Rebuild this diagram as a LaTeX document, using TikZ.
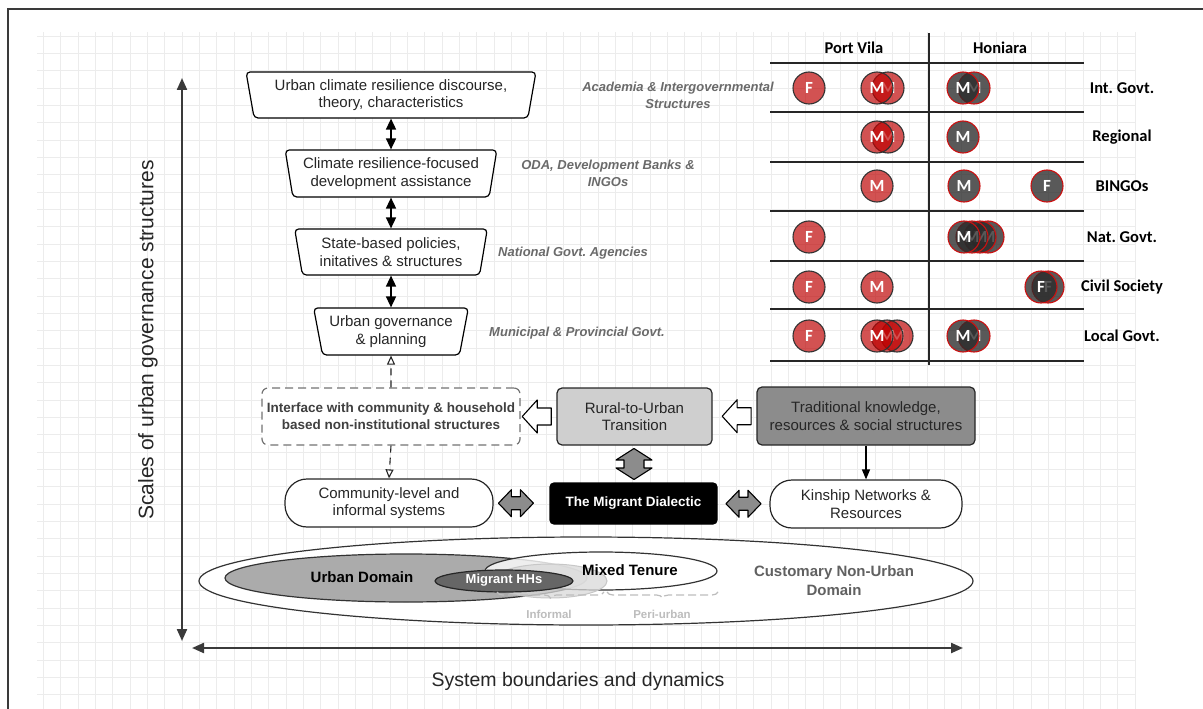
\documentclass[tikz,border=0pt]{standalone}
\usepackage{fontspec}
\setmainfont{Liberation Sans}
\newfontfamily\calib{Carlito}
\usetikzlibrary{arrows.meta,shapes.geometric,calc,decorations.pathreplacing}

\definecolor{gridc}{HTML}{ECECEC}
\definecolor{framec}{HTML}{3A3A3A}
\definecolor{ink}{HTML}{262626}
\definecolor{labgrey}{HTML}{6A6A6A}
\definecolor{pvfill}{HTML}{BD0000}
\definecolor{hofill}{HTML}{2A2A2A}
\definecolor{honred}{HTML}{CC1010}
\definecolor{ruralfill}{HTML}{CFCFCF}
\definecolor{tradfill}{HTML}{8C8C8C}
\definecolor{urbanfill}{HTML}{ABABAB}
\definecolor{migrfill}{HTML}{666666}
\definecolor{blockfill}{HTML}{8C8C8C}
\definecolor{bracec}{HTML}{BDBDBD}

\begin{document}
\frenchspacing
\begin{tikzpicture}[x=1pt,y=-1pt,
  trap/.style={trapezium, trapezium stretches=true, shape border rotate=180,
    draw=black, line width=1.2pt, rounded corners=4pt, fill=white, align=center,
    text=ink, font=\fontsize{15}{17.5}\selectfont, inner sep=0pt},
  twohead/.style={{Triangle[length=11pt,width=10pt]}-{Triangle[length=11pt,width=10pt]},
    line width=1.6pt, draw=black},
  dashlink/.style={dash pattern=on 7pt off 5pt, line width=1.1pt, draw=black!85,
    -{Triangle[length=9pt,width=8pt,fill=white,line width=1.1pt]}},
  softbox/.style={rectangle, rounded corners=5pt, line width=1.2pt, draw=black!85,
    align=center, inner sep=0pt, text=ink, font=\fontsize{15}{17.5}\selectfont},
  stadium/.style={softbox, rounded corners=22pt, fill=white},
  blockline/.style={draw=black, line width=1.1pt, line join=round},
  % hollow block arrow pointing left
  leftblock/.pic={\draw[blockline, fill=white]
      (-14.5,0) -- (0.5,-16.5) -- (0.5,-8.5) -- (14.5,-8.5) -- (14.5,8.5)
      -- (0.5,8.5) -- (0.5,16.5) -- cycle;},
  % grey two-way block arrow, horizontal
  sideblock/.pic={\draw[blockline, fill=blockfill]
      (-17.5,0) -- (-4.5,-13.5) -- (-4.5,-6.5) -- (4.5,-6.5) -- (4.5,-13.5)
      -- (17.5,0) -- (4.5,13.5) -- (4.5,6.5) -- (-4.5,6.5) -- (-4.5,13.5) -- cycle;},
  % grey two-way block arrow, vertical
  upblock/.pic={\draw[blockline, fill=blockfill]
      (0,-15.5) -- (18,-4) -- (10,-4) -- (10,4) -- (18,4) -- (0,15.5)
      -- (-18,4) -- (-10,4) -- (-10,-4) -- (-18,-4) -- cycle;},
  italab/.style={font=\fontsize{13}{17}\selectfont\bfseries\itshape, text=labgrey, align=center},
  tabline/.style={draw=black!85, line width=1.3pt},
  tabhead/.style={font=\calib\fontsize{16.5}{18}\selectfont\bfseries, text=black},
  rowlab/.style={tabhead},
  pvc/.style={circle, minimum size=32pt, inner sep=0pt, draw=black!80, line width=1.1pt,
    fill=pvfill, fill opacity=0.68, text opacity=1, text=white,
    font=\calib\fontsize{17}{17}\selectfont\bfseries},
  hoc/.style={pvc, draw=honred, fill=hofill, fill opacity=0.78},
  axisarrow/.style={{Triangle[length=12pt,width=10pt]}-{Triangle[length=12pt,width=10pt]},
    line width=2.2pt, draw=framec},
  domainlab/.style={font=\fontsize{15}{19}\selectfont\bfseries, align=center},
  bracestyle/.style={decorate, decoration={brace, amplitude=6pt, mirror},
    dash pattern=on 8pt off 4pt, draw=bracec, line width=1.2pt},
  bracelab/.style={font=\fontsize{11.5}{12}\selectfont\bfseries, text=bracec}
]
\useasboundingbox (0,0) rectangle (1203,709);

% background grid
\foreach \gx in {0,...,63}
  \draw[gridc, line width=0.7pt] ({43.3+17.33*\gx},32) -- ({43.3+17.33*\gx},709);
\foreach \gy in {0,...,38}
  \draw[gridc, line width=0.7pt] (37,{36+17.33*\gy}) -- (1135,{36+17.33*\gy});

% frame
\draw[framec, line width=1.6pt] (8,730) -- (8,9) -- (1230,9);

% axes
\coordinate (vtop) at (182,78);
\coordinate (vbot) at (182,641);
\coordinate (hleft) at (192,648);
\coordinate (hright) at (963,648);
\draw[axisarrow] (vtop) -- (vbot);
\draw[axisarrow] (hleft) -- (hright);
\node[rotate=90, font=\fontsize{21}{21}\selectfont, text=ink] (vlab) at (148,340)
  {Scales of urban governance structures};
\node[font=\fontsize{19.5}{20}\selectfont, text=ink] (hlab) at (578,681)
  {System boundaries and dynamics};

% governance scales
\node[trap, minimum width=290pt, minimum height=46pt, trapezium angle=77.7] (t1) at (391,95)
  {Urban climate resilience discourse,\\theory, characteristics};
\node[trap, minimum width=212pt, minimum height=47pt, trapezium angle=77.7] (t2) at (391,173.5)
  {Climate resilience-focused\\development assistance};
\node[trap, minimum width=193pt, minimum height=46pt, trapezium angle=77.7] (t3) at (391,252)
  {State-based policies,\\initatives \& structures};
\node[trap, minimum width=155pt, minimum height=47pt, trapezium angle=75.7] (t4) at (391,331.5)
  {Urban governance\\\& planning};
\draw[twohead] (t1.south) -- (t2.north);
\draw[twohead] (t2.south) -- (t3.north);
\draw[twohead] (t3.south) -- (t4.north);

\node[italab] (l1) at (678,95.5) {Academia \& Intergovernmental\\Structures};
\node[italab] (l2) at (608,173.5) {ODA, Development Banks \&\\INGOs};
\node[italab] (l3) at (573,253) {National Govt. Agencies};
\node[italab] (l4) at (577,333) {Municipal \& Provincial Govt.};

% community / migrant layer
\node[softbox, draw=black!55, dash pattern=on 8pt off 5pt, rounded corners=6pt,
  minimum width=258pt, minimum height=57pt, fill=white,
  font=\fontsize{13.5}{17}\selectfont\bfseries, text=black!75] (iface) at (391,416.5)
  {Interface with community \& household\\based non-institutional structures};
\node[softbox, fill=ruralfill, minimum width=155pt, minimum height=57pt] (rural) at (634.5,416.5)
  {Rural-to-Urban\\Transition};
\node[softbox, fill=tradfill, minimum width=218pt, minimum height=58pt] (trad) at (866,416)
  {Traditional knowledge,\\resources \& social structures};
\node[stadium, minimum width=208pt, minimum height=48pt] (comm) at (389,503)
  {Community-level and\\informal systems};
\node[softbox, fill=black, draw=black, rounded corners=4pt, minimum width=167pt,
  minimum height=41pt, text=white, font=\fontsize{13.5}{15}\selectfont\bfseries] (mig) at (633.5,503.5)
  {The Migrant Dialectic};
\node[stadium, minimum width=192pt, minimum height=48pt] (kin) at (866,504)
  {Kinship Networks \&\\Resources};

\draw[dashlink] (iface.north) -- (t4.south);
\draw[dashlink] (iface.south) -- (comm.north);
\draw[line width=1.3pt, -{Triangle[length=10pt,width=8pt]}] (trad.south) -- (kin.north);

\coordinate (ha1) at ($(iface.east)!0.45!(rural.west)$);
\coordinate (ha2) at ($(rural.east)!0.55!(trad.west)$);
\coordinate (ba1) at ($(rural.south)!0.5!(mig.north)$);
\coordinate (ba2) at ($(comm.east)!0.4!(mig.west)$);
\coordinate (ba3) at ($(mig.east)!0.5!(kin.west)$);
\pic at (ha1) {leftblock};
\pic at (ha2) {leftblock};
\pic at (ba1) {upblock};
\pic at (ba2) {sideblock};
\pic at (ba3) {sideblock};

% land tenure domains
\node[ellipse, draw=black!80, line width=1.2pt, fill=white, minimum width=774pt,
  minimum height=88pt, inner sep=0pt] (cust) at (586,581) {};
\node[ellipse, draw=black!80, line width=1.2pt, fill=urbanfill, minimum width=362pt,
  minimum height=48pt, inner sep=0pt] (urb) at (406,578) {};
\node[ellipse, draw=black!80, line width=1.2pt, fill=white, fill opacity=0.8,
  minimum width=232pt, minimum height=38pt, inner sep=0pt] (mix) at (601,571) {};
\node[ellipse, draw=black!22, line width=1pt, fill=black!15, fill opacity=0.75,
  minimum width=114pt, minimum height=34pt, inner sep=0pt] (inf) at (550,581) {};
\node[ellipse, draw=black!85, line width=1.2pt, fill=migrfill,
  minimum width=138pt, minimum height=22pt, inner sep=0pt] (mhh) at (504,581) {};
\node[domainlab] (urblab) at (362,577) {Urban Domain};
\node[domainlab] (mixlab) at (630,570) {Mixed Tenure};
\node[domainlab, text=black!62] (custlab) at (834,581) {Customary Non-Urban\\Domain};
\node[font=\fontsize{13}{13}\selectfont\bfseries, text=white] (mhhlab) at (504,580) {Migrant HHs};

\coordinate (b1l) at (497,592);
\coordinate (b1r) at (604,592);
\coordinate (b2l) at (607,592);
\coordinate (b2r) at (718,592);
\draw[bracestyle] (b1l) -- (b1r);
\draw[bracestyle] (b2l) -- (b2r);
\node[bracelab] (blab1) at (549,614) {Informal};
\node[bracelab] (blab2) at (662,614) {Peri-urban};

% city / sector matrix
\draw[tabline] (929,33) -- (929,365);
\foreach \ry in {63,112,162,211,261,309,361}
  \draw[tabline] (770,\ry) -- (1084,\ry);
\node[tabhead] (pv) at (854,48) {Port Vila};
\node[tabhead] (hon) at (1000,48) {Honiara};
\node[rowlab] (r1) at (1122,88) {Int. Govt.};
\node[rowlab] (r2) at (1122,137) {Regional};
\node[rowlab] (r3) at (1122,186) {BINGOs};
\node[rowlab] (r4) at (1122,237) {Nat. Govt.};
\node[rowlab] (r5) at (1122,287) {Civil Society};
\node[rowlab] (r6) at (1122,336) {Local Govt.};

% Int. Govt.
\node[pvc] (c1a) at (809,88) {F};
\node[pvc] (c1c) at (888,88) {M};
\node[pvc] (c1b) at (877,88) {M};
\node[hoc] (c1e) at (974,88) {M};
\node[hoc] (c1d) at (963,88) {M};
% Regional
\node[pvc] (c2b) at (888,137) {M};
\node[pvc] (c2a) at (877,137) {M};
\node[hoc] (c2c) at (963,137) {M};
% BINGOs
\node[pvc] (c3a) at (877,186) {M};
\node[hoc] (c3b) at (964,186) {M};
\node[hoc] (c3c) at (1047,186) {F};
% Nat. Govt.
\node[pvc] (c4a) at (809,237) {F};
\node[hoc] (c4e) at (988,237) {M};
\node[hoc] (c4d) at (980,237) {M};
\node[hoc] (c4c) at (972,237) {M};
\node[hoc] (c4b) at (964,237) {M};
% Civil Society
\node[pvc] (c5a) at (809,287) {F};
\node[pvc] (c5b) at (877,287) {M};
\node[hoc] (c5d) at (1048,287) {F};
\node[hoc] (c5c) at (1041,287) {F};
% Local Govt.
\node[pvc] (c6a) at (809,336) {F};
\node[pvc] (c6d) at (897,336) {M};
\node[pvc] (c6c) at (887,336) {M};
\node[pvc] (c6b) at (877,336) {M};
\node[hoc] (c6f) at (974,336) {M};
\node[hoc] (c6e) at (963,336) {M};
\end{tikzpicture}
\end{document}
